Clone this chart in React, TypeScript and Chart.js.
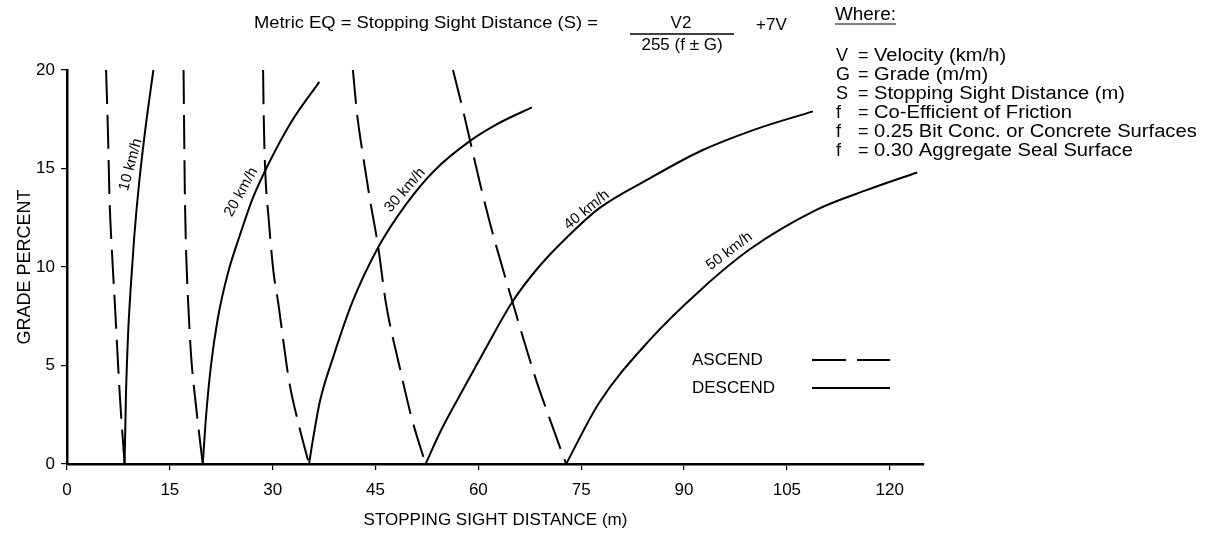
import React, { useEffect, useRef } from "react";
import { Chart, registerables } from "chart.js";

Chart.register(...registerables);

// ---------- data (stopping sight distance in m, grade in %) ----------
const xTickValues = [0, 15, 30, 45, 60, 75, 90, 105, 120];
const yTickValues = [0, 5, 10, 15, 20];

const ascend10X = [5.7, 6.0, 6.2, 6.6, 7.0, 7.7, 8.4];
const ascend10Y = [20, 16.5, 13.5, 10.5, 8, 3.5, 0];
const descend10X = [8.4, 8.6, 8.9, 9.3, 9.8, 10.5, 11.5, 12.6];
const descend10Y = [0, 3.5, 6.5, 9, 11.5, 14.2, 17.2, 20];

const ascend20X = [17.0, 17.1, 17.2, 17.4, 17.7, 18.1, 18.8, 19.8];
const ascend20Y = [20, 16.5, 13.5, 10.5, 8, 5.5, 3, 0];
const descend20X = [19.8, 20.3, 21.0, 22.0, 23.4, 25.2, 27.1, 29.2, 32.6, 36.8];
const descend20Y = [0, 2.5, 5, 7.4, 9.6, 11.6, 13.5, 15.1, 17.3, 19.4];

const ascend30X = [28.6, 28.7, 28.9, 29.4, 30.1, 30.8, 32.4, 33.8, 35.3];
const ascend30Y = [20, 17.5, 15, 12.5, 9.8, 8.2, 4.2, 2, 0];
const descend30X = [35.3, 36.0, 36.9, 38.9, 41.6, 45.4, 49.5, 53.6, 58.8, 63.0, 67.8];
const descend30Y = [0, 1.5, 3.2, 5.5, 8.2, 11.0, 13.2, 14.9, 16.4, 17.3, 18.1];

const ascend40X = [41.7, 42.3, 43.2, 44.2, 45.4, 46.5, 48.6, 50.3, 52.3];
const ascend40Y = [20, 17.8, 15.6, 13.4, 11.0, 8.2, 4.8, 2.3, 0];
const descend40X = [52.3, 54.4, 57.0, 60.8, 64.9, 68.8, 72.9, 77.7, 85.0, 92.5, 100.5, 108.8];
const descend40Y = [0, 1.6, 3.3, 5.7, 8.2, 10.0, 11.5, 13.0, 14.5, 15.9, 17.0, 17.9];

const ascend50X = [56.3, 57.8, 58.8, 60.2, 62.1, 65.0, 68.3, 70.5, 72.8];
const ascend50Y = [20, 17.9, 16.4, 14.3, 11.7, 8.2, 4.4, 2.2, 0];
const descend50X = [72.8, 77.6, 85.0, 92.3, 99.6, 109.3, 116.6, 124.0];
const descend50Y = [0, 3.1, 6.3, 8.8, 10.9, 12.9, 13.9, 14.8];

const speedLabels = ["10 km/h", "20 km/h", "30 km/h", "40 km/h", "50 km/h"];

const whereLetters = ["V", "G", "S", "f", "f", "f"];
const whereTexts = [
  "Velocity (km/h)",
  "Grade (m/m)",
  "Stopping Sight Distance (m)",
  "Co-Efficient of Friction",
  "0.25 Bit Conc. or Concrete Surfaces",
  "0.30 Aggregate Seal Surface",
];

// ---------- presentation ----------
const FONT = '"Liberation Sans", Arial, Helvetica, sans-serif';

// where each speed label sits (data coords) and its rotation
const labelPlacement = [
  { x: 9.3, y: 15.2, angle: -75 },
  { x: 25.4, y: 13.8, angle: -61 },
  { x: 49.3, y: 13.9, angle: -49 },
  { x: 75.8, y: 12.9, angle: -39 },
  { x: 96.6, y: 10.8, angle: -37 },
];

const toPts = (xs: number[], ys: number[]) => xs.map((x, i) => ({ x, y: ys[i] }));

const curves = [
  { xs: ascend10X, ys: ascend10Y, dashed: true },
  { xs: descend10X, ys: descend10Y, dashed: false },
  { xs: ascend20X, ys: ascend20Y, dashed: true },
  { xs: descend20X, ys: descend20Y, dashed: false },
  { xs: ascend30X, ys: ascend30Y, dashed: true },
  { xs: descend30X, ys: descend30Y, dashed: false },
  { xs: ascend40X, ys: ascend40Y, dashed: true },
  { xs: descend40X, ys: descend40Y, dashed: false },
  { xs: ascend50X, ys: ascend50Y, dashed: true },
  { xs: descend50X, ys: descend50Y, dashed: false },
];

const DASH = [34, 11];

function drawStretched(ctx: CanvasRenderingContext2D, text: string, x: number, y: number, sx: number) {
  ctx.save();
  ctx.translate(x, y);
  ctx.scale(sx, 1);
  ctx.fillText(text, 0, 0);
  ctx.restore();
}

const overlayPlugin = {
  id: "overlay",
  afterDraw(chart: any) {
    const ctx: CanvasRenderingContext2D = chart.ctx;
    const xs = chart.scales.x;
    const ys = chart.scales.y;
    ctx.save();
    ctx.fillStyle = "#000";
    ctx.strokeStyle = "#000";

    // curve labels
    speedLabels.forEach((t, i) => {
      const p = labelPlacement[i];
      ctx.save();
      ctx.translate(xs.getPixelForValue(p.x), ys.getPixelForValue(p.y));
      ctx.rotate((p.angle * Math.PI) / 180);
      ctx.font = `15px ${FONT}`;
      ctx.textAlign = "center";
      ctx.textBaseline = "middle";
      ctx.fillText(t, 0, 0);
      ctx.restore();
    });

    // equation
    ctx.textBaseline = "alphabetic";
    ctx.textAlign = "left";
    ctx.font = `17px ${FONT}`;
    drawStretched(ctx, "Metric EQ = Stopping Sight Distance (S) =", 254, 28, 1.08);
    ctx.textAlign = "center";
    ctx.fillText("V2", 681, 28);
    ctx.fillText("255 (f ± G)", 682, 50);
    ctx.lineWidth = 1.6;
    ctx.beginPath();
    ctx.moveTo(630, 34);
    ctx.lineTo(734, 34);
    ctx.stroke();
    ctx.textAlign = "left";
    ctx.fillText("+7V", 756, 30);

    // where block
    ctx.font = `18px ${FONT}`;
    drawStretched(ctx, "Where:", 835, 20, 1.05);
    const ww = ctx.measureText("Where:").width * 1.05;
    ctx.lineWidth = 1.2;
    ctx.beginPath();
    ctx.moveTo(835, 24);
    ctx.lineTo(835 + ww, 24);
    ctx.stroke();
    whereLetters.forEach((l, i) => {
      const y = 61 + i * 19;
      ctx.fillText(l, 836, y);
      ctx.fillText("=", 858, y);
      drawStretched(ctx, whereTexts[i], 874, y, 1.12);
    });

    // ascend / descend key
    ctx.font = `17px ${FONT}`;
    ctx.textBaseline = "middle";
    ctx.fillText("ASCEND", 692, 360);
    ctx.fillText("DESCEND", 692, 388);
    ctx.lineWidth = 2;
    ctx.setLineDash(DASH);
    ctx.beginPath();
    ctx.moveTo(812, 360);
    ctx.lineTo(890, 360);
    ctx.stroke();
    ctx.setLineDash([]);
    ctx.beginPath();
    ctx.moveTo(812, 388);
    ctx.lineTo(890, 388);
    ctx.stroke();

    ctx.restore();
  },
};

export default function App() {
  const ref = useRef<HTMLCanvasElement>(null);

  useEffect(() => {
    if (!ref.current) return;
    const chart = new Chart(ref.current, {
      type: "scatter",
      data: {
        datasets: curves.map((c) => ({
          data: toPts(c.xs, c.ys),
          showLine: true,
          borderColor: "#000",
          backgroundColor: "#000",
          borderWidth: 2,
          borderDash: c.dashed ? DASH : [],
          pointRadius: 0,
          pointHoverRadius: 0,
          cubicInterpolationMode: "monotone",
          fill: false,
          clip: 6,
        })),
      },
      options: {
        animation: false,
        responsive: false,
        devicePixelRatio: 1,
        events: [],
        layout: { padding: { left: 0, right: 281, top: 70, bottom: 0 } },
        plugins: {
          legend: { display: false },
          tooltip: { enabled: false },
          title: { display: false },
        },
        scales: {
          x: {
            type: "linear",
            min: 0,
            max: 125,
            afterBuildTicks: (scale: any) => {
              scale.ticks = xTickValues.map((v) => ({ value: v }));
            },
            afterFit: (scale: any) => {
              scale.height = 74;
            },
            border: { display: true, color: "#000", width: 2.5 },
            grid: { drawOnChartArea: false, drawTicks: true, tickLength: 6, color: "#000", lineWidth: 1.2 },
            ticks: {
              color: "#000",
              padding: 10,
              maxRotation: 0,
              font: { family: FONT, size: 17 },
            },
            title: {
              display: true,
              text: "STOPPING SIGHT DISTANCE (m)",
              color: "#000",
              font: { family: FONT, size: 17 },
              padding: { top: 0, bottom: 7 },
            },
          },
          y: {
            type: "linear",
            min: 0,
            max: 20,
            afterBuildTicks: (scale: any) => {
              scale.ticks = yTickValues.map((v) => ({ value: v }));
            },
            afterFit: (scale: any) => {
              scale.width = 67;
            },
            border: { display: true, color: "#000", width: 2.5 },
            grid: { drawOnChartArea: false, drawTicks: true, tickLength: 6, color: "#000", lineWidth: 1.2 },
            ticks: {
              color: "#000",
              padding: 6,
              font: { family: FONT, size: 17 },
            },
            title: {
              display: true,
              text: "GRADE PERCENT",
              color: "#000",
              font: { family: FONT, size: 18 },
              padding: { top: 14, bottom: 0 },
            },
          },
        },
      },
      plugins: [overlayPlugin],
    });
    return () => chart.destroy();
  }, []);

  return (
    <div style={{ position: "absolute", left: 0, top: 0, width: 1205, height: 538, background: "#fff" }}>
      <canvas ref={ref} width={1205} height={538} style={{ display: "block", width: 1205, height: 538 }} />
    </div>
  );
}
